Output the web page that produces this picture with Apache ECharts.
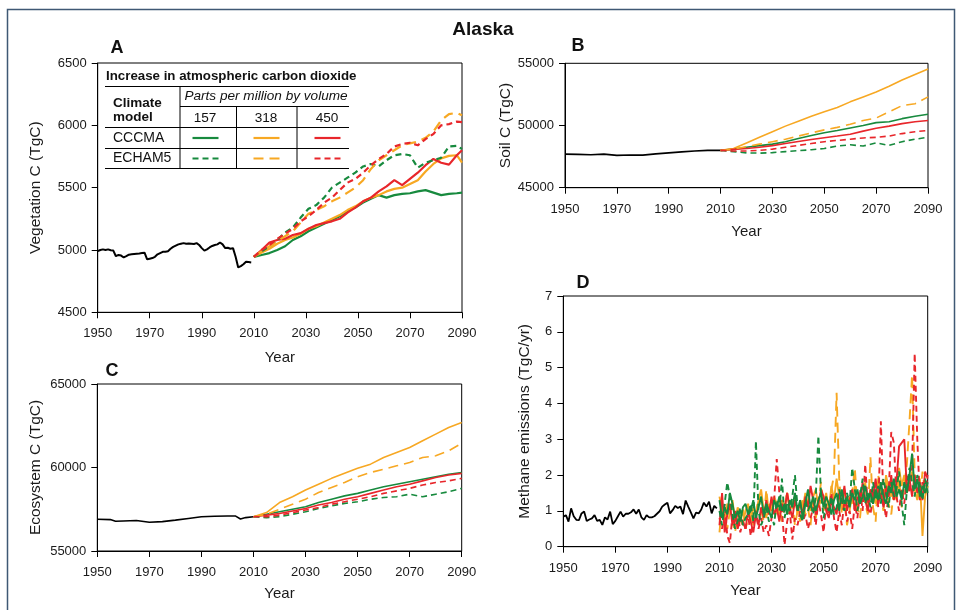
<!DOCTYPE html>
<html><head><meta charset="utf-8">
<script src="https://cdn.jsdelivr.net/npm/echarts@6/dist/echarts.min.js"></script>
<style>html,body{margin:0;padding:0;background:#fff}#c{width:957px;height:610px}</style>
</head><body><div id="c"></div>
<script>
// ---------- Data ----------
const xTicks = [1950, 1970, 1990, 2010, 2030, 2050, 2070, 2090];
const scenarioNames = ['CCCMA 157', 'CCCMA 318', 'CCCMA 450', 'ECHAM5 157', 'ECHAM5 318', 'ECHAM5 450'];

// Panel A: Vegetation C (TgC)
const histStartA = 1950;
const histVegA = [4990,5000,5005,5000,5005,4998,4995,4950,4960,4955,4940,4950,4962,4965,4968,4970,4972,4975,4978,4925,
  4930,4935,4945,4965,4975,4985,4985,4990,5010,5025,5035,5045,5050,5055,5050,5052,5050,5048,5055,5040,
  5015,4995,5005,5020,5032,5040,5045,5060,5045,5015,5018,5010,5015,4945,4860,4870,4885,4905,4903,4900];
const yearsA = [2010,2013,2016,2019,2022,2025,2028,2031,2034,2037,2040,2043,2046,2049,2052,2055,2058,2061,2064,2067,2070,2073,2076,2079,2082,2085,2088,2090];
const vegCCCMA157 = [4945,4960,4975,5000,5030,5080,5110,5150,5180,5210,5240,5270,5310,5340,5380,5410,5440,5420,5440,5450,5455,5470,5480,5460,5440,5450,5455,5460];
const vegCCCMA318 = [4945,4980,5010,5050,5080,5100,5130,5170,5190,5220,5250,5280,5320,5350,5390,5420,5440,5470,5490,5500,5530,5560,5630,5690,5735,5755,5760,5700];
const vegCCCMA450 = [4945,5000,5060,5080,5090,5120,5135,5170,5200,5215,5230,5250,5300,5340,5390,5420,5470,5510,5560,5520,5570,5620,5680,5730,5700,5685,5760,5800];
const vegECHAM157 = [4945,4990,5030,5080,5140,5180,5260,5330,5360,5420,5500,5540,5580,5620,5670,5690,5670,5720,5760,5770,5760,5660,5700,5720,5740,5830,5835,5810];
const vegECHAM318 = [4945,4990,5030,5070,5110,5150,5220,5290,5320,5350,5390,5420,5460,5500,5560,5650,5720,5760,5800,5840,5855,5870,5900,5950,6040,6090,6100,6080];
const vegECHAM450 = [4945,5000,5040,5090,5130,5170,5230,5270,5320,5380,5420,5480,5540,5570,5620,5680,5730,5770,5830,5850,5860,5840,5890,5930,6000,6010,6030,6025];
const yTicksA = [4500, 5000, 5500, 6000, 6500];

// Panel B: Soil C (TgC)
const histYearsB = [1950,1955,1960,1965,1970,1975,1980,1985,1990,1995,2000,2005,2010];
const histSoilB = [47700,47680,47650,47700,47600,47630,47620,47720,47800,47880,47950,48000,48000];
const yearsB = [2010,2015,2020,2025,2030,2035,2040,2045,2050,2055,2060,2065,2070,2075,2080,2085,2090];
const soilCCCMA157 = [48000,48100,48250,48380,48500,48700,48950,49200,49420,49600,49800,50000,50230,50300,50550,50750,50900];
const soilCCCMA318 = [48000,48150,48600,49050,49500,49950,50350,50750,51100,51450,51900,52300,52700,53150,53650,54100,54550];
const soilCCCMA450 = [48000,48080,48150,48250,48380,48550,48720,48870,49020,49150,49300,49550,49780,49950,50150,50300,50400];
const soilECHAM157 = [48000,47900,47800,47780,47820,47900,47980,48050,48150,48350,48450,48350,48600,48400,48700,48900,49050];
const soilECHAM318 = [48000,48100,48300,48500,48700,48900,49150,49400,49650,49850,50100,50400,50600,51100,51600,51750,52300];
const soilECHAM450 = [48000,47950,47950,48000,48100,48250,48400,48550,48700,48800,48900,49000,49050,49150,49350,49500,49600];
const yTicksB = [45000, 50000, 55000];

// Panel C: Ecosystem C (TgC)
const histYearsC = [1950,1955,1957,1960,1965,1970,1975,1980,1985,1990,1995,2000,2003,2005,2007,2010];
const histEcoC = [56900,56880,56780,56800,56830,56720,56760,56850,56950,57050,57080,57100,57100,56920,57000,57050];
const yearsC = [2010,2015,2020,2025,2030,2035,2040,2045,2050,2055,2060,2065,2070,2075,2080,2085,2090];
const ecoCCCMA157 = [57050,57200,57350,57500,57650,57900,58100,58300,58450,58650,58850,59000,59150,59300,59450,59600,59700];
const ecoCCCMA318 = [57050,57300,57900,58250,58650,59000,59350,59650,59950,60200,60600,60900,61200,61600,62000,62400,62700];
const ecoCCCMA450 = [57050,57150,57250,57400,57550,57750,57900,58100,58250,58450,58650,58850,59000,59200,59400,59550,59650];
const ecoECHAM157 = [57050,57000,57050,57200,57350,57550,57700,57850,57950,58100,58200,58250,58400,58250,58400,58550,58750];
const ecoECHAM318 = [57050,57200,57500,57800,58100,58500,58800,59100,59450,59700,59900,60100,60300,60600,60700,61000,61450];
const ecoECHAM450 = [57050,57050,57150,57300,57450,57600,57800,57950,58100,58250,58450,58600,58750,58950,59100,59200,59350];
const yTicksC = [55000, 60000, 65000];

// Panel D: Methane emissions (TgC/yr), annual
const histStartD = 1950;
const histCH4D = [0.84,0.88,0.70,1.07,0.85,0.75,0.74,0.93,0.98,0.72,0.76,0.79,0.88,0.72,0.75,0.61,0.82,0.76,0.98,0.63,
  0.72,0.85,0.98,0.84,0.92,0.92,0.96,1.04,0.92,1.04,0.82,0.75,0.88,0.82,0.82,0.85,0.92,0.99,1.12,1.18,
  1.23,0.93,1.02,1.14,1.08,1.12,0.91,1.29,1.12,0.96,0.79,0.95,0.93,1.04,1.23,1.12,1.26,0.93,1.14,1.07];
const futStartD = 2010;
const ch4CCCMA157 = [1.3,0.8,1.1,0.9,1.5,1.2,0.8,1.0,0.7,1.1, 1.2,0.9,1.0,1.3,0.8,1.1,1.4,0.9,1.2,1.0,
  0.8,1.3,1.1,1.4,1.0,1.2,0.9,1.3,1.1,1.5, 1.0,1.3,0.8,1.2,1.6,1.1,1.4,1.0,1.3,1.5,
  1.1,1.4,1.2,0.9,1.3,1.5,1.0,1.6,1.2,1.4, 1.1,1.5,1.3,1.6,1.2,1.4,1.7,1.3,1.5,1.2,
  1.6,1.3,1.8,1.4,1.2,1.7,1.5,1.9,1.4,1.6, 1.3,1.8,1.5,2.0,2.6,1.6,1.9,1.4,1.7,1.5, 1.8];
const ch4CCCMA318 = [1.4,1.0,0.6,1.2,0.9,1.3,0.7,1.1,0.8,0.6, 1.0,1.2,0.7,1.1,0.9,1.3,1.6,1.0,0.8,1.2,
  1.0,1.4,1.2,0.9,1.3,1.1,1.5,1.0,1.2,1.4, 0.9,1.3,1.1,1.5,1.2,1.0,1.4,1.6,1.1,1.3,
  1.2,1.5,1.0,1.7,1.3,1.9,1.4,1.1,1.6,1.2, 1.4,1.2,1.7,1.0,1.5,1.3,1.8,1.1,1.6,1.4,
  1.2,1.9,1.5,1.3,2.0,1.6,1.4,1.8,1.5,2.2, 1.7,2.0,1.5,1.8,2.1,1.6,1.3,1.9,0.3,1.4, 1.7];
const ch4CCCMA450 = [0.6,1.5,0.4,0.9,1.2,0.6,1.0,0.5,0.8,0.7, 0.5,1.0,0.7,0.4,0.9,0.6,1.1,0.8,1.3,0.9,
  1.4,0.9,1.1,0.7,1.2,1.0,1.5,1.1,0.8,1.3, 1.0,1.2,0.9,1.4,1.1,1.7,1.3,0.9,1.2,1.6,
  1.4,1.0,0.8,1.3,1.1,0.9,1.5,1.2,1.7,1.0, 1.3,1.6,1.0,1.4,1.2,1.8,1.3,1.0,1.6,1.4,
  1.9,1.2,1.5,1.1,1.7,1.4,2.0,1.3,1.8,2.8, 2.9,3.0,1.6,1.9,1.4,2.0,1.5,1.8,1.3,2.1, 1.9];
const ch4ECHAM157 = [1.0,0.6,1.2,1.8,1.4,0.9,0.5,0.7,1.1,0.6, 0.8,0.9,1.2,0.7,2.95,1.0,0.6,0.8,1.1,0.7,
  0.9,0.6,1.3,1.0,1.9,0.8,1.2,1.0,1.4,2.0, 1.1,0.9,0.7,1.3,1.0,1.2,0.9,1.4,3.1,1.5,
  0.8,1.2,1.0,1.4,0.9,1.1,1.6,1.3,1.0,1.5, 1.2,2.2,1.6,1.0,1.4,1.9,1.2,1.5,1.1,1.8,
  1.3,1.7,1.2,1.9,1.5,1.1,1.8,1.4,1.6,2.1, 1.2,0.6,1.6,2.2,1.8,1.4,2.0,1.7,1.3,1.9, 1.5];
const ch4ECHAM318 = [0.4,1.2,0.8,0.5,1.0,0.7,0.4,0.9,0.6,1.1, 0.5,0.8,1.0,0.6,0.9,1.4,1.0,0.7,1.6,0.9,
  1.2,0.8,1.0,1.3,0.7,1.1,1.5,0.9,1.2,0.6, 1.0,0.7,1.3,0.9,1.1,0.6,1.4,0.8,1.2,1.8,
  1.0,1.4,1.1,1.6,2.0,4.3,1.9,0.9,1.3,0.6, 1.0,1.5,2.2,1.1,0.8,1.6,1.2,0.9,2.5,1.1,
  0.7,2.0,1.4,1.0,1.8,1.2,0.9,1.6,1.3,1.9, 1.1,1.7,2.3,3.5,4.8,2.0,1.6,1.3,2.1,1.5, 1.6];
const ch4ECHAM450 = [0.8,0.5,1.2,0.3,0.1,0.9,0.6,1.0,0.4,0.7, 0.5,0.9,0.3,0.7,1.0,0.5,0.8,0.4,0.6,0.3,
  0.8,1.3,2.45,1.5,1.0,0.05,0.7,1.0,0.2,0.8, 0.6,1.0,0.7,0.9,0.5,0.8,1.1,0.6,1.3,0.9,
  0.4,1.2,0.9,1.5,0.8,0.4,1.0,0.6,1.3,0.7, 1.0,0.5,1.2,0.8,1.6,1.0,2.3,1.1,0.9,1.4,
  1.8,1.1,3.5,1.3,0.8,1.5,3.2,2.9,1.4,1.0, 1.6,1.2,2.0,1.5,2.2,5.4,3.0,1.3,1.8,1.5, 2.0];
const yTicksD = [0, 1, 2, 3, 4, 5, 6, 7];

// ---------- Styling ----------
const FONT = '"Liberation Sans", Arial, Helvetica, sans-serif';
const GREEN = '#178a3e', ORANGE = '#f7a823', RED = '#e8262b';
const styles = [
  {c: GREEN, d: 'solid'}, {c: ORANGE, d: 'solid'}, {c: RED, d: 'solid'},
  {c: GREEN, d: [6, 4]}, {c: ORANGE, d: [10, 6]}, {c: RED, d: [6, 4]}
];

function pairs(years, vals) { return vals.map((v, i) => [years[i], v]); }
function annual(start, vals) { return vals.map((v, i) => [start + i, v]); }

const grids = [
  {left: 97.7, top: 63, width: 364.3, height: 249.3},
  {left: 565, top: 63.3, width: 363, height: 124.4},
  {left: 97.3, top: 384, width: 364.4, height: 167},
  {left: 563.3, top: 296, width: 364.4, height: 250.7}
].map(g => Object.assign({show: true, borderColor: '#000', borderWidth: 1, backgroundColor: 'transparent', containLabel: false, outerBoundsMode: 'none'}, g));

const yConf = [
  {ticks: yTicksA, name: 'Vegetation C (TgC)', gap: 54},
  {ticks: yTicksB, name: 'Soil C (TgC)', gap: 50},
  {ticks: yTicksC, name: 'Ecosystem C (TgC)', gap: 54},
  {ticks: yTicksD, name: 'Methane emissions (TgC/yr)', gap: 31}
];
const xGaps = [38, 37, 35, 37];
const plain = v => String(v);

const xAxes = grids.map((g, i) => ({
  type: 'value', gridIndex: i, min: xTicks[0], max: xTicks[xTicks.length - 1], interval: xTicks[1] - xTicks[0],
  name: 'Year', nameLocation: 'middle', nameGap: xGaps[i],
  nameTextStyle: {fontFamily: FONT, fontSize: 15, color: '#1a1a1a'},
  axisLine: {show: true, onZero: false, lineStyle: {color: '#000', width: 1}},
  axisTick: {show: true, inside: false, length: 6, lineStyle: {color: '#000'}},
  axisLabel: {fontFamily: FONT, fontSize: 13, color: '#1a1a1a', margin: 15, formatter: plain, showMinLabel: true, showMaxLabel: true},
  splitLine: {show: false}
}));
const yAxes = yConf.map((c, i) => ({
  type: 'value', gridIndex: i, min: c.ticks[0], max: c.ticks[c.ticks.length - 1], interval: c.ticks[1] - c.ticks[0],
  name: c.name, nameLocation: 'middle', nameGap: c.gap, nameRotate: 90,
  nameTextStyle: {fontFamily: FONT, fontSize: 15.5, color: '#1a1a1a'},
  axisLine: {show: true, onZero: false, lineStyle: {color: '#000', width: 1}},
  axisTick: {show: true, inside: false, length: 6, lineStyle: {color: '#000'}},
  axisLabel: {fontFamily: FONT, fontSize: 13, color: '#1a1a1a', margin: 11, formatter: plain},
  splitLine: {show: false}
}));

const series = [];
function addLine(gi, name, data, color, dash, width) {
  series.push({type: 'line', name, xAxisIndex: gi, yAxisIndex: gi, data, symbol: 'none', showSymbol: false,
    lineStyle: {color, width, type: dash}, silent: true, z: 3});
}
// Panel A
addLine(0, 'Historical', annual(histStartA, histVegA), '#000', 'solid', 2);
[vegCCCMA157, vegCCCMA318, vegCCCMA450, vegECHAM157, vegECHAM318, vegECHAM450].forEach((v, k) =>
  addLine(0, scenarioNames[k], pairs(yearsA, v), styles[k].c, styles[k].d, 2.2));
// Panel B
addLine(1, 'Historical', pairs(histYearsB, histSoilB), '#000', 'solid', 1.6);
[soilCCCMA157, soilCCCMA318, soilCCCMA450, soilECHAM157, soilECHAM318, soilECHAM450].forEach((v, k) =>
  addLine(1, scenarioNames[k], pairs(yearsB, v), styles[k].c, styles[k].d, 1.6));
// Panel C
addLine(2, 'Historical', pairs(histYearsC, histEcoC), '#000', 'solid', 1.6);
[ecoCCCMA157, ecoCCCMA318, ecoCCCMA450, ecoECHAM157, ecoECHAM318, ecoECHAM450].forEach((v, k) =>
  addLine(2, scenarioNames[k], pairs(yearsC, v), styles[k].c, styles[k].d, 1.6));
// Panel D
addLine(3, 'Historical', annual(histStartD, histCH4D), '#000', 'solid', 1.8);
[ch4CCCMA318, ch4ECHAM318, ch4CCCMA450, ch4ECHAM450, ch4CCCMA157, ch4ECHAM157].forEach((v, k) => {
  const idx = [1, 4, 2, 5, 0, 3][k];
  addLine(3, scenarioNames[idx], annual(futStartD, v), styles[idx].c, styles[idx].d, 1.9);
});

// ---------- Legend table & labels (graphic) ----------
function txt(x, y, text, font, align) {
  return {type: 'text', x, y, z: 100, silent: true,
    style: {text, font, fill: '#111', align: align || 'left', verticalAlign: 'middle'}};
}
function ln(x1, y1, x2, y2, color, width, dash) {
  return {type: 'line', z: 100, silent: true, shape: {x1, y1, x2, y2},
    style: {stroke: color || '#000', lineWidth: width || 1, lineDash: dash || null}};
}
const tableTitle = 'Increase in atmospheric carbon dioxide';
const tableSub = 'Parts per million by volume';
const co2Levels = ['157', '318', '450'];
const models = ['CCCMA', 'ECHAM5'];
const colX = [205, 266, 327];
const sampleColors = [GREEN, ORANGE, RED];
const graphic = [
  {type: 'rect', z: 0, silent: true, shape: {x: 7.5, y: 9.5, width: 947, height: 640},
    style: {fill: 'none', stroke: '#3f5874', lineWidth: 1.5}},
  txt(483, 30, 'Alaska', 'bold 19px ' + FONT, 'center'),
  txt(117, 48, 'A', 'bold 18px ' + FONT, 'center'),
  txt(578, 46, 'B', 'bold 18px ' + FONT, 'center'),
  txt(112, 371, 'C', 'bold 18px ' + FONT, 'center'),
  txt(583, 283, 'D', 'bold 18px ' + FONT, 'center'),
  txt(106, 76.5, tableTitle, 'bold 13.3px ' + FONT),
  ln(105, 86.5, 349, 86.5),
  txt(266, 96, tableSub, 'italic 13.6px ' + FONT, 'center'),
  ln(180, 106.5, 349, 106.5),
  txt(113, 103, 'Climate', 'bold 13.5px ' + FONT),
  txt(113, 117.5, 'model', 'bold 13.5px ' + FONT),
  ln(105, 127.5, 349, 127.5),
  ln(105, 148.5, 349, 148.5),
  ln(105, 168.5, 349, 168.5),
  ln(180, 86.5, 180, 168.5),
  ln(236.5, 106.5, 236.5, 168.5),
  ln(297, 106.5, 297, 168.5)
];
co2Levels.forEach((l, i) => graphic.push(txt(colX[i], 118, l, '13.6px ' + FONT, 'center')));
models.forEach((m, r) => {
  const y = 138 + r * 20.5;
  graphic.push(txt(113, y, m, '14px ' + FONT));
  sampleColors.forEach((c, i) => {
    const dash = r === 0 ? null : (i === 1 ? [10, 6] : [6, 4]);
    graphic.push(ln(colX[i] - 12.5, y, colX[i] + 13.5, y, c, 2.2, dash));
  });
});

const chart = echarts.init(document.getElementById('c'), null, {renderer: 'canvas'});
chart.setOption({
  animation: false,
  backgroundColor: '#fff',
  grid: grids,
  xAxis: xAxes,
  yAxis: yAxes,
  series,
  graphic
});
</script></body></html>
